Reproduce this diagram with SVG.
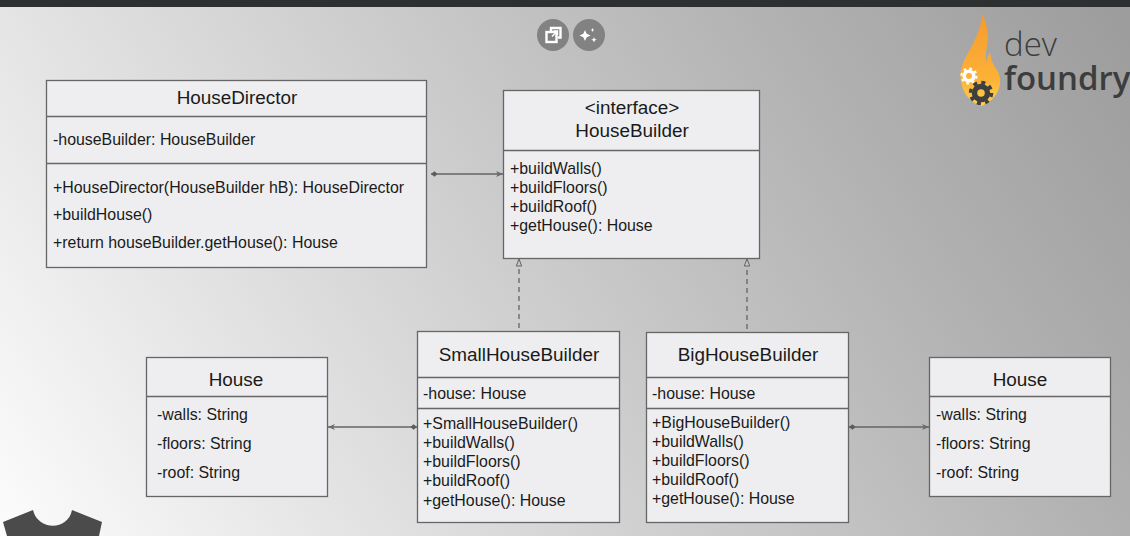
<svg xmlns="http://www.w3.org/2000/svg" width="1130" height="536" viewBox="0 0 1130 536">
<style>
.box{fill:#eeeef0;stroke:#666;stroke-width:1.3}
.div{stroke:#666;stroke-width:1.3;fill:none}
text{font-family:"Liberation Sans",Arial,sans-serif;fill:#1a1a1a}
.t{font-size:18.9px;text-anchor:middle}
.m{font-size:15.9px}
.c{stroke:#646464;stroke-width:1.3;fill:none}
.logo{fill:#3d3d3d;font-family:"Open Sans",sans-serif}
</style>
<defs>
<linearGradient id="bg" gradientUnits="userSpaceOnUse" x1="0" y1="536" x2="1023" y2="-129">
<stop offset="0" stop-color="#fcfcfc"/><stop offset="0.24" stop-color="#e4e4e4"/><stop offset="0.505" stop-color="#cacaca"/><stop offset="0.63" stop-color="#bebebe"/><stop offset="0.777" stop-color="#b0b0b0"/><stop offset="1" stop-color="#9d9d9d"/>
</linearGradient>
<linearGradient id="flame" x1="0" y1="0" x2="0" y2="1"><stop offset="0" stop-color="#f59a30"/><stop offset="0.7" stop-color="#fdb136"/><stop offset="1" stop-color="#fdd24a"/></linearGradient>
<marker id="open" markerWidth="9" markerHeight="8" refX="8" refY="4" orient="auto" markerUnits="userSpaceOnUse"><path d="M1 1L8 4L1 7L3 4Z" fill="#6a6a6a"/></marker>
<marker id="dia" markerWidth="10" markerHeight="8" refX="0.5" refY="4" orient="auto" markerUnits="userSpaceOnUse"><path d="M0.5 4L4 1.300L7 4L4 6.700Z" fill="#5c5c5c"/></marker>
<marker id="tri" markerWidth="9" markerHeight="10" refX="7.500" refY="3.500" orient="auto" markerUnits="userSpaceOnUse"><path d="M7.500 3.500L0.500 0.800V6.200Z" fill="#c8c8c8" stroke="#646464"/></marker>
</defs>
<rect width="1130" height="536" fill="url(#bg)"/>
<rect width="1130" height="7" fill="#2e2f31"/>
<g id="toolbar">
<circle cx="553" cy="35" r="16" fill="#828282"/><circle cx="589" cy="35" r="16" fill="#828282"/>
<path d="M551 31.500V28h9.500v9.500h-3" fill="none" stroke="#fff" stroke-width="2.400"/>
<rect x="546.500" y="32" width="10" height="10" fill="none" stroke="#fff" stroke-width="2.400"/>
<path d="M552 36.500L557 31.500M553.500 31h4v4" fill="none" stroke="#fff" stroke-width="1.500"/>
<path d="M585 30l1.700 3.800 3.800 1.700-3.800 1.700-1.700 3.800-1.700-3.800-3.800-1.700 3.800-1.700zM594 37l.8 2 2 .8-2 .8-.8 2-.8-2-2-.8 2-.8zM592.500 28l.6 1.400 1.400.6-1.400.6-.6 1.400-.6-1.400-1.400-.6 1.400-.6z" fill="#fff"/>
</g>
<g id="logo">
<path d="M981.700 13C987 24 989 33 987 45C986 52 985 57 986.700 62C987 58 988 55 990.700 52.700C990 60 994 65 998 72C1002 80 1000 90 995 96C991 101 986 104 981.700 106C973 104 961 94 960.500 77C960 64 968 54 973 44C977 35 982 25 981.700 13Z" fill="url(#flame)"/>
<circle cx="969" cy="76" r="4.800" fill="none" stroke="#fff" stroke-width="3.600"/>
<circle cx="969" cy="76" r="7.500" fill="none" stroke="#fff" stroke-width="2.200" stroke-dasharray="2.600 3.300"/>
<circle cx="981" cy="93" r="6.500" fill="none" stroke="#3f3f3f" stroke-width="5.500"/>
<circle cx="981" cy="93" r="10.500" fill="none" stroke="#3f3f3f" stroke-width="3.500" stroke-dasharray="4 4.250"/>
<text class="logo" x="1004" y="56" font-size="33" font-weight="300">dev</text>
<text class="logo" x="1004" y="90" font-size="33" font-weight="600">foundry</text>
</g>
<g id="shirt"><path d="M3 522L33 510C38 531 68 531 72 510L102 522L99 536H7Z" fill="#4b4b4b"/></g>
<g id="connectors">
<path class="c" d="M431 174H503" marker-start="url(#dia)" marker-end="url(#open)"/>
<path class="c" d="M519 328V259" stroke-dasharray="5 4" marker-end="url(#tri)"/>
<path class="c" d="M747 329V259" stroke-dasharray="5 4" marker-end="url(#tri)"/>
<path class="c" d="M417 427H328" marker-start="url(#dia)" marker-end="url(#open)"/>
<path class="c" d="M849 427H929" marker-start="url(#dia)" marker-end="url(#open)"/>
</g>
<g id="HouseDirector">
<rect class="box" x="46.500" y="80.500" width="380" height="187"/>
<path class="div" d="M46.500 116.500H426.500M46.500 163.500H426.500"/>
<text class="t" x="237" y="104">HouseDirector</text>
<text class="m" x="53" y="144.500">-houseBuilder: HouseBuilder</text>
<text class="m" x="53" y="192.500">+HouseDirector(HouseBuilder hB): HouseDirector</text>
<text class="m" x="53" y="219.500">+buildHouse()</text>
<text class="m" x="53" y="247.500">+return houseBuilder.getHouse(): House</text>
</g>
<g id="HouseBuilder">
<rect class="box" x="503.500" y="90.500" width="256" height="168"/>
<path class="div" d="M503.500 150.500H759.500"/>
<text class="t" x="632" y="114">&lt;interface&gt;</text>
<text class="t" x="632" y="137">HouseBuilder</text>
<text class="m" x="510" y="173.500">+buildWalls()</text>
<text class="m" x="510" y="192.500">+buildFloors()</text>
<text class="m" x="510" y="211.500">+buildRoof()</text>
<text class="m" x="510" y="230.500">+getHouse(): House</text>
</g>
<g id="HouseLeft">
<rect class="box" x="146.500" y="357.500" width="181" height="139"/>
<path class="div" d="M146.500 396.500H327.500"/>
<text class="t" x="236" y="386">House</text>
<text class="m" x="157" y="419.500">-walls: String</text>
<text class="m" x="157" y="449">-floors: String</text>
<text class="m" x="157" y="477.500">-roof: String</text>
</g>
<g id="SmallHouseBuilder">
<rect class="box" x="417.500" y="331.500" width="202" height="191"/>
<path class="div" d="M417.500 377.500H619.500M417.500 408.500H619.500"/>
<text class="t" x="519" y="361">SmallHouseBuilder</text>
<text class="m" x="423" y="398.500">-house: House</text>
<text class="m" x="423" y="429">+SmallHouseBuilder()</text>
<text class="m" x="423" y="448">+buildWalls()</text>
<text class="m" x="423" y="467">+buildFloors()</text>
<text class="m" x="423" y="486">+buildRoof()</text>
<text class="m" x="423" y="505.500">+getHouse(): House</text>
</g>
<g id="BigHouseBuilder">
<rect class="box" x="646.500" y="332.500" width="202" height="190"/>
<path class="div" d="M646.500 377.500H848.500M646.500 408.500H848.500"/>
<text class="t" x="748" y="361">BigHouseBuilder</text>
<text class="m" x="652" y="398.500">-house: House</text>
<text class="m" x="652" y="427.500">+BigHouseBuilder()</text>
<text class="m" x="652" y="446.500">+buildWalls()</text>
<text class="m" x="652" y="465.500">+buildFloors()</text>
<text class="m" x="652" y="484.500">+buildRoof()</text>
<text class="m" x="652" y="503.500">+getHouse(): House</text>
</g>
<g id="HouseRight">
<rect class="box" x="929.500" y="357.500" width="181" height="139"/>
<path class="div" d="M929.500 396.500H1110.500"/>
<text class="t" x="1020" y="386">House</text>
<text class="m" x="936" y="419.500">-walls: String</text>
<text class="m" x="936" y="449">-floors: String</text>
<text class="m" x="936" y="477.500">-roof: String</text>
</g>
</svg>
